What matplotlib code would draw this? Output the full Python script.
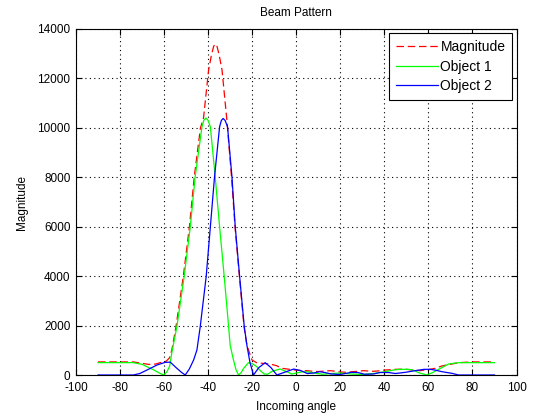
import matplotlib
matplotlib.use("Agg")
import matplotlib.pyplot as plt

# ---- data ----
ang_mag = [-90, -74, -70, -67, -64, -61, -59, -57.5, -56.5, -54.6, -51.3, -48.5, -46.3,
           -43.5, -42.1, -39.8, -38.5, -37.5, -36.8, -36, -35, -33.7, -31.5, -29.4, -27.8, -25.8,
           -23.7, -22.4, -20.1, -18, -15, -12, -9, -6.5, -3, -0.5, 2, 4.8, 7.5, 10, 13,
           15.4, 18, 20, 23, 25, 28, 30.6, 33, 35, 38, 40, 43, 45, 48, 50, 53, 56.3,
           60, 63.1, 66.1, 68.5, 70.7, 73.7, 80, 90]
magnitude = [530, 530, 470, 430, 440, 520, 560, 700, 1011, 1954, 3977, 6000, 8023,
             10000, 10400, 12340, 12950, 13300, 13392, 13300, 12950, 12340, 10317, 8023, 6000, 3977,
             1954, 1200, 607, 499, 470, 445, 380, 270, 230, 202, 180, 175, 150, 140, 160,
             175, 150, 120, 110, 130, 150, 175, 160, 150, 170, 200, 215, 229, 235, 229, 200, 175,
             220, 270, 364, 410, 445, 499, 530, 530]

ang_obj1 = [-90, -74, -70, -67.8, -65, -63.3, -61.5, -60.2, -58.8, -57.5, -56.5, -54.2,
            -50.9, -48.1, -45.9, -42.8, -42, -41, -40, -39, -36.8, -34.8, -32.7, -30.7, -30, -28.5,
            -27.3, -26.2, -25, -23.9, -21.7, -19.8, -17.9, -16, -14.5, -13, -11, -7.3, -4,
            -2, 0, 3, 6, 9, 12, 16, 20, 25, 30, 35, 40, 44, 47, 51, 53, 56, 59.3, 62,
            64.6, 69.2, 73.7, 80, 90]
object1 = [500, 500, 430, 337, 220, 135, 50, 0, 120, 350, 900, 1954,
           3977, 6000, 8023, 10046, 10300, 10400, 10300, 10046, 8023, 6000, 3977, 1954, 1200, 607,
           200, 0, 100, 270, 499, 450, 337, 150, 40, 30, 150, 243, 120,
           40, 80, 135, 120, 67, 30, 60, 80, 40, 20, 60, 130, 200, 229, 229, 200, 80, 0, 100,
           229, 445, 499, 499, 499]

ang_obj2 = [-90, -74, -71, -69.3, -66, -63.2, -59.5, -57.2, -54.2, -52, -50.4, -48.5,
            -46.6, -45.1, -43.6, -40.9, -39, -37.1, -34.8, -34, -33.2, -32.3, -31.2, -29.2, -27.7,
            -25.7, -23.6, -22.4, -21, -19.4, -17, -14.1, -11.5, -8.8, -5, -1.2, 2, 5, 8,
            10.5, 13, 16, 20, 25, 28, 31, 35, 38, 42, 45, 49.5, 54, 58, 60.8, 63, 66.1,
            70.7, 73.7, 80, 90]
object2 = [0, 0, 60, 135, 280, 405, 512, 520, 270, 100, 0, 250,
           607, 1011, 1954, 3977, 6000, 8023, 10046, 10300, 10380, 10300, 10046, 8023, 6000,
           3977, 1954, 1200, 500, 0, 300, 499, 300, 0, 120, 240, 180, 60, 80,
           135, 100, 40, 20, 108, 100, 30, 40, 100, 100, 60, 108, 175, 229, 229, 200, 135,
           67, 0, 0, 0]

x_ticks = [-100, -80, -60, -40, -20, 0, 20, 40, 60, 80, 100]
y_ticks = [0, 2000, 4000, 6000, 8000, 10000, 12000, 14000]

plt.rcParams['font.family'] = ['Liberation Sans', 'DejaVu Sans']
plt.rcParams['font.size'] = 8.5
plt.rcParams['axes.unicode_minus'] = False

fig = plt.figure(figsize=(5.45, 4.17), dpi=100)
ax = fig.add_axes([76 / 545, 1 - 375 / 417, (516.5 - 76) / 545, (375 - 29) / 417])

ax.plot(ang_mag, magnitude, color='#ff0000', linestyle=(0, (6, 3)), linewidth=0.9, label='Magnitude')
ax.plot(ang_obj1, object1, color='#00ff00', linestyle='-', linewidth=0.9, label='Object 1')
ax.plot(ang_obj2, object2, color='#0000ff', linestyle='-', linewidth=0.9, label='Object 2')

ax.set_xlim(-100, 100)
ax.set_ylim(0, 14000)
ax.set_xticks(x_ticks)
ax.set_yticks(y_ticks)
ax.grid(True, color='black', linestyle=(0, (1, 3)), linewidth=0.8)
ax.tick_params(direction='in', top=True, right=True, length=4, width=0.8, labelsize=8.5)
ax.tick_params(axis='x', pad=5)
ax.tick_params(axis='y', pad=4)
for s in ax.spines.values():
    s.set_linewidth(0.8)

ax.set_title('Beam Pattern', fontsize=8.5, pad=9)
ax.set_xlabel('Incoming angle', fontsize=8.5, labelpad=5)
ax.set_ylabel('Magnitude', fontsize=8.5, labelpad=6.5)

leg = ax.legend(loc='upper right', fancybox=False, edgecolor='black', framealpha=1,
                fontsize=10, handlelength=3.0, borderaxespad=0.3, labelspacing=0.4,
                handletextpad=0.2, borderpad=0.5)
leg.get_frame().set_linewidth(0.8)

fig.savefig('out.png', dpi=100)
